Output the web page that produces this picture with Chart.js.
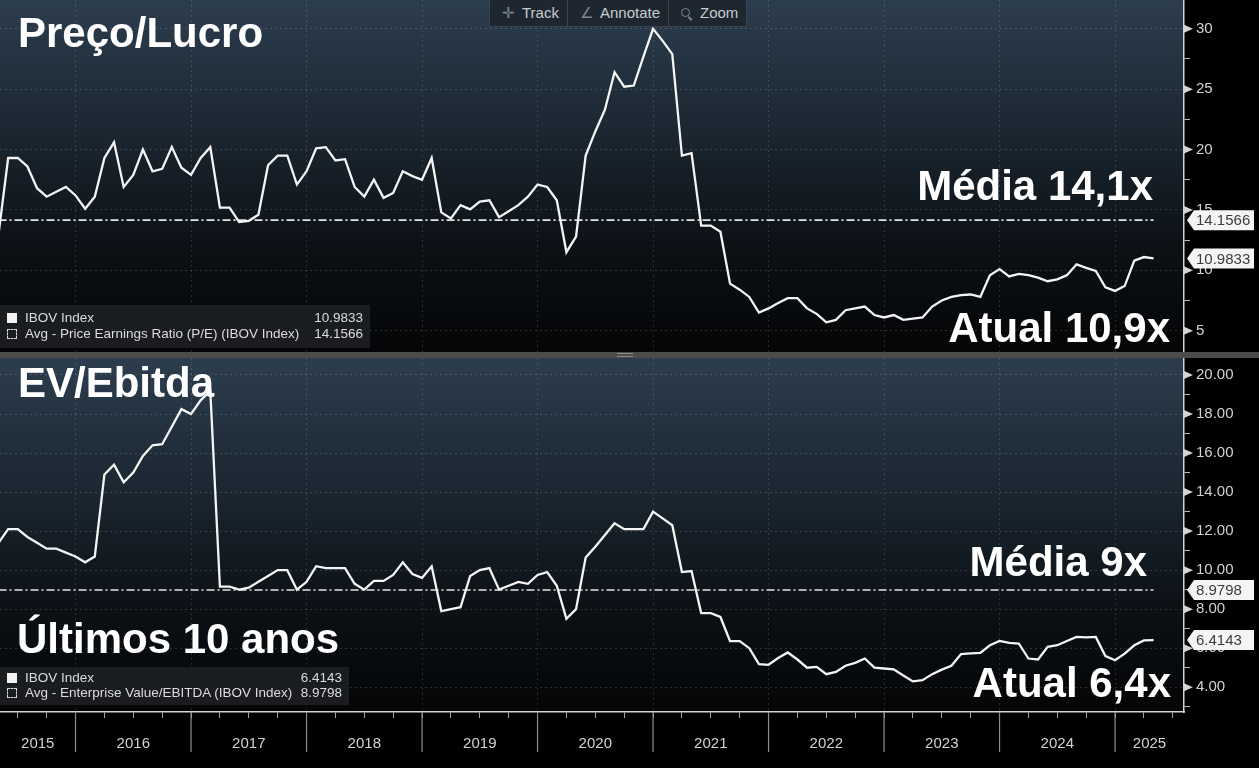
<!DOCTYPE html>
<html>
<head>
<meta charset="utf-8">
<script src="https://cdn.jsdelivr.net/npm/chart.js@4.4.1/dist/chart.umd.min.js"></script>
<style>
  html, body { margin: 0; padding: 0; background: #000; }
  #wrap { position: relative; width: 1259px; height: 768px; overflow: hidden; background: #000;
          font-family: 'Liberation Sans', Arial, sans-serif; }
  canvas { position: absolute; left: 0; }
  #c-pe { top: 0; }
  #c-ev { top: 358px; }
  #sep { position: absolute; left: 0; top: 352px; width: 1259px; height: 6px; background: #4c4c4c; }
  #sep i { position: absolute; left: 617px; top: 1px; width: 16px; height: 2px;
           border-top: 1px solid #8a8a8a; border-bottom: 1px solid #8a8a8a; }
  .big { position: absolute; color: #fff; font: bold 42px/42px 'Liberation Sans', Arial, sans-serif; white-space: nowrap; }
  .legend { position: absolute; left: 0; background: rgba(30,32,35,0.88); color: #dcdcdc;
            font: 13.5px/16px 'Liberation Sans', Arial, sans-serif; box-sizing: border-box; padding: 5px 7px 0 7px; }
  .legend .row { display: flex; align-items: center; white-space: nowrap; }
  .legend .ico { width: 10px; height: 10px; margin-right: 8px; box-sizing: border-box; }
  .legend .solid { background: #f2f2f2; }
  .legend .dash { border: 1.5px dashed #d8d8d8; }
  .legend .name { flex: 1; }
  #toolbar { position: absolute; left: 489px; top: -1px; height: 26px; display: flex; background: #1e2730;
             border: 1px solid #3b444d; color: #c6cbd0; font: 15px/25px 'Liberation Sans', Arial, sans-serif; }
  #toolbar div { padding: 0 8px 0 12px; border-left: 1px solid #3b444d; white-space: nowrap; }
  #toolbar div:first-child { border-left: none; }
  #toolbar b { font-weight: normal; color: #7d868f; margin-right: 7px; }
  .mag { display: inline-block; width: 7px; height: 7px; border: 1.5px solid #7d868f; border-radius: 50%;
         position: relative; margin-right: 10px; top: -1px; }
  .mag::after { content: ''; position: absolute; left: 7px; top: 7px; width: 5px; height: 1.5px;
                background: #7d868f; transform: rotate(45deg); transform-origin: 0 0; }
</style>
</head>
<body>
<div id="wrap">
  <canvas id="c-pe" width="1259" height="352"></canvas>
  <div id="sep"><i></i></div>
  <canvas id="c-ev" width="1259" height="410"></canvas>

  <div class="big" style="left:18px;top:12px">Preço/Lucro</div>
  <div class="big" style="right:106px;top:165px">Média 14,1x</div>
  <div class="big" style="right:89px;top:307px">Atual 10,9x</div>
  <div class="big" style="left:18px;top:362px">EV/Ebitda</div>
  <div class="big" style="right:112px;top:541px">Média 9x</div>
  <div class="big" style="left:17px;top:618px">Últimos 10 anos</div>
  <div class="big" style="right:88px;top:662px">Atual 6,4x</div>

  <div class="legend" style="top:305px;width:370px;height:43px">
    <div class="row"><span class="ico solid"></span><span class="name">IBOV Index</span><span id="lg-pe-last"></span></div>
    <div class="row"><span class="ico dash"></span><span class="name">Avg - Price Earnings Ratio (P/E) (IBOV Index)</span><span id="lg-pe-avg"></span></div>
  </div>
  <div class="legend" style="top:667px;width:349px;height:38px;padding-top:3px;line-height:15px">
    <div class="row"><span class="ico solid"></span><span class="name">IBOV Index</span><span id="lg-ev-last"></span></div>
    <div class="row"><span class="ico dash"></span><span class="name">Avg - Enterprise Value/EBITDA (IBOV Index)</span><span id="lg-ev-avg"></span></div>
  </div>

  <div id="toolbar">
    <div><b>✛</b>Track</div>
    <div><b>∠</b>Annotate</div>
    <div><span class="mag"></span>Zoom</div>
  </div>
</div>

<script>
// monthly month-end observations, Apr 2015 .. Apr 2025
const firstMonth = { year: 2015, month: 4 };

const peSeries = [
  13.0, 19.3, 19.3, 18.6, 16.8, 16.1, 16.5, 16.9, 16.2, 15.1, 16.1, 19.3, 20.6,
  16.9, 17.9, 20.0, 18.2, 18.4, 20.2, 18.5, 17.9, 19.3, 20.2, 15.2, 15.2,
  14.0, 14.1, 14.6, 18.7, 19.5, 19.5, 17.1, 18.2, 20.1, 20.2, 19.1, 19.2,
  16.9, 16.1, 17.5, 16.0, 16.4, 18.2, 17.8, 17.5, 19.3, 14.8, 14.3, 15.4,
  15.05, 15.7, 15.8, 14.4, 14.9, 15.4, 16.1, 17.1, 16.9, 15.8, 11.5, 12.8,
  19.5, 21.5, 23.3, 26.4, 25.2, 25.3, 27.7, 30.0, 29.0, 27.9, 19.5, 19.7,
  13.7, 13.7, 13.2, 8.9, 8.4, 7.8, 6.5, 6.85, 7.3, 7.7, 7.7, 6.85,
  6.4, 5.7, 5.9, 6.7, 6.85, 7.0, 6.3, 6.1, 6.3, 5.9, 6.0, 6.1,
  7.0, 7.5, 7.8, 7.95, 8.0, 7.8, 9.6, 10.1, 9.5, 9.7, 9.6, 9.4,
  9.1, 9.25, 9.6, 10.5, 10.2, 9.95, 8.6, 8.3, 8.7, 10.8, 11.1, 10.9833
];
const evSeries = [
  11.4, 12.1, 12.1, 11.7, 11.4, 11.1, 11.1, 10.9, 10.7, 10.4, 10.7, 14.9, 15.4,
  14.5, 15.0, 15.85, 16.4, 16.45, 17.35, 18.25, 18.0, 18.7, 19.2, 9.15, 9.15,
  9.0, 9.1, 9.4, 9.7, 10.0, 10.0, 9.0, 9.4, 10.2, 10.1, 10.1, 10.1,
  9.3, 9.0, 9.45, 9.45, 9.75, 10.4, 9.8, 9.6, 10.2, 7.9, 8.0, 8.1,
  9.7, 10.0, 10.1, 9.0, 9.2, 9.4, 9.3, 9.75, 9.9, 9.2, 7.5, 8.0,
  10.65, 11.2, 11.8, 12.4, 12.1, 12.1, 12.1, 13.0, 12.65, 12.3, 9.9, 9.95,
  7.8, 7.8, 7.6, 6.36, 6.36, 6.0, 5.18, 5.15, 5.5, 5.78, 5.42, 5.0,
  5.04, 4.67, 4.78, 5.1, 5.25, 5.47, 5.0, 4.96, 4.92, 4.6, 4.3, 4.36,
  4.67, 4.9, 5.1, 5.7, 5.73, 5.76, 6.15, 6.37, 6.27, 6.24, 5.47, 5.42,
  6.07, 6.15, 6.37, 6.58, 6.55, 6.58, 5.6, 5.38, 5.72, 6.15, 6.4, 6.4143
];
const peLast = 10.9833, peAvg = 14.1566;
const evLast = 6.4143, evAvg = 8.9798;

const yearLabels = ['2015', '2016', '2017', '2018', '2019', '2020', '2021', '2022', '2023', '2024', '2025'];
const peTicks = [5, 10, 15, 20, 25, 30];
const evTicks = [4, 6, 8, 10, 12, 14, 16, 18, 20];

// visible window of the time axis (decimal years)
const X_MIN = 2015.346, X_MAX = 2025.597;

Chart.defaults.font.family = "'Liberation Sans', Arial, sans-serif";

function el(id) { return document.getElementById(id); }

const monthX = peSeries.map((_, i) => firstMonth.year + (firstMonth.month + i) / 12);
function points(arr) { return arr.map((v, i) => ({ x: monthX[i], y: v })); }
function flat(v) { return [{ x: monthX[0], y: v }, { x: monthX[monthX.length - 1], y: v }]; }

const near = (a, b) => Math.abs(a - b) < 1e-6;
const isYearStart = v => near(v, Math.round(v));
const isQuarter = v => near(v * 4, Math.round(v * 4));

function yearMid(lbl) {
  const y = +lbl;
  return (Math.max(y, X_MIN) + Math.min(y + 1, X_MAX)) / 2;
}

function buildXTicks(scale) {
  const t = [];
  for (let y = 2015; y <= 2026; y++) {
    for (let q = 0; q < 4; q++) {
      const v = y + q / 4;
      if (v >= X_MIN && v <= X_MAX) t.push({ value: v });
    }
  }
  yearLabels.forEach(l => {
    const m = yearMid(l);
    if (!t.some(k => near(k.value, m))) t.push({ value: m });
  });
  t.sort((a, b) => a.value - b.value);
  scale.ticks = t;
}
function xLabel(v) {
  const l = yearLabels.find(l => near(yearMid(l), v));
  return l || '';
}

function buildYTicks(majors) {
  return scale => {
    const half = (majors[1] - majors[0]) / 2;
    const minors = majors.map(v => v - half).filter(v => v >= scale.min);
    scale.ticks = majors.concat(minors).sort((a, b) => a - b).map(v => ({ value: v, major: majors.includes(v) }));
  };
}

// no label overhang padding: the plot should fill the panel edge to edge
function noPad(s) { s.paddingTop = 0; s.paddingBottom = 0; s.paddingLeft = 0; s.paddingRight = 0; }

// gradient panel behind the plot area
const panelBg = {
  id: 'panelBg',
  beforeDraw(chart) {
    const { ctx, chartArea: a } = chart;
    ctx.save();
    ctx.fillStyle = '#000';
    ctx.fillRect(0, 0, chart.width, chart.height);
    const g = ctx.createLinearGradient(0, a.top, 0, a.bottom);
    g.addColorStop(0, '#2c3d4e');
    g.addColorStop(0.35, '#1c2833');
    g.addColorStop(0.7, '#0c1116');
    g.addColorStop(1, '#040506');
    ctx.fillStyle = g;
    ctx.fillRect(a.left, a.top, a.right - a.left, a.bottom - a.top);
    ctx.restore();
  }
};

// major tick arrows + value tags on the right axis, year separators under the time axis
const axisDecor = {
  id: 'axisDecor',
  afterDraw(chart, args, opts) {
    const { ctx } = chart;
    const ys = chart.scales.y;
    ctx.save();
    ctx.fillStyle = '#d4d4d4';
    ys.ticks.forEach(t => {
      if (!t.major) return;
      const p = ys.getPixelForValue(t.value);
      ctx.beginPath();
      ctx.moveTo(ys.left, p - 4);
      ctx.lineTo(ys.left + 9, p);
      ctx.lineTo(ys.left, p + 4);
      ctx.closePath();
      ctx.fill();
    });
    (opts.tags || []).forEach(tag => {
      const p = ys.getPixelForValue(tag.value);
      const x0 = ys.left + 3;
      ctx.fillStyle = '#f4f4f4';
      ctx.beginPath();
      ctx.moveTo(x0, p);
      ctx.lineTo(x0 + 7, p - 10);
      ctx.lineTo(x0 + 67, p - 10);
      ctx.lineTo(x0 + 67, p + 10);
      ctx.lineTo(x0 + 7, p + 10);
      ctx.closePath();
      ctx.fill();
      ctx.fillStyle = '#3c3c3c';
      ctx.font = "15px 'Liberation Sans', Arial, sans-serif";
      ctx.textBaseline = 'middle';
      ctx.fillText(tag.text, x0 + 9, p + 1);
    });
    if (opts.separators) {
      const xs = chart.scales.x;
      ctx.strokeStyle = '#8e8e8e';
      ctx.lineWidth = 1.2;
      yearLabels.forEach(l => {
        const v = +l;
        if (v <= X_MIN) return;
        const px = xs.getPixelForValue(v);
        ctx.beginPath();
        ctx.moveTo(px, xs.top);
        ctx.lineTo(px, xs.top + 40);
        ctx.stroke();
      });
    }
    ctx.restore();
  }
};

function makeChart(canvasId, cfg) {
  const series = cfg.series;
  return new Chart(el(canvasId).getContext('2d'), {
    type: 'line',
    data: { datasets: [
      { label: 'IBOV Index', data: points(series), borderColor: '#f4f4f4', borderWidth: 2.3,
        pointRadius: 0, tension: 0 },
      { label: 'Avg', data: flat(cfg.avg), borderColor: '#e4e4e4', borderWidth: 1.6,
        borderDash: [8, 3, 2, 3], pointRadius: 0, tension: 0 },
    ] },
    options: {
      responsive: false, animation: false, events: [],
      layout: { padding: 0 },
      plugins: {
        legend: { display: false }, tooltip: { enabled: false },
        axisDecor: { tags: [{ value: cfg.avg, text: cfg.avg.toFixed(4) }, { value: cfg.last, text: cfg.last.toFixed(4) }],
                     separators: cfg.showX },
      },
      scales: {
        x: {
          type: 'linear', min: X_MIN, max: X_MAX, bounds: 'data',
          afterBuildTicks: buildXTicks,
          afterFit: s => { s.height = cfg.showX ? 56 : 0; noPad(s); },
          border: { display: cfg.showX, color: '#d4d4d4', width: 1.5, dash: [2, 3] },
          grid: {
            color: c => (c.tick && isYearStart(c.tick.value)) ? 'rgba(255,255,255,0.13)' : 'rgba(0,0,0,0)',
            tickColor: c => (c.tick && isQuarter(c.tick.value)) ? '#a6a6a6' : 'rgba(0,0,0,0)',
            drawTicks: cfg.showX, tickLength: 6, lineWidth: 1,
          },
          ticks: { display: cfg.showX, autoSkip: false, maxRotation: 0, padding: 17,
                   color: '#d2d2d2', font: { size: 15 }, callback: v => xLabel(v) },
        },
        y: {
          position: 'right', min: cfg.min, max: cfg.max, bounds: 'data',
          afterBuildTicks: buildYTicks(cfg.ticks),
          afterFit: s => { s.width = 75; noPad(s); },
          border: { display: true, color: '#d4d4d4', width: 1.5, dash: [2, 3] },
          grid: {
            color: c => (c.tick && c.tick.major) ? 'rgba(255,255,255,0.15)' : 'rgba(0,0,0,0)',
            tickColor: c => (c.tick && !c.tick.major) ? '#bdbdbd' : 'rgba(0,0,0,0)',
            tickLength: 6, lineWidth: 1,
          },
          ticks: { autoSkip: false, padding: 6, color: '#d2d2d2', font: { size: 15 },
                   callback: (v) => cfg.ticks.includes(v) ? cfg.fmt(v) : '' },
        },
      },
    },
    plugins: [panelBg, axisDecor],
  });
}

makeChart('c-pe', { series: peSeries, avg: peAvg, last: peLast, min: 3.24, max: 32.38,
                    ticks: peTicks, fmt: v => String(v), showX: false });
makeChart('c-ev', { series: evSeries, avg: evAvg, last: evLast, min: 2.73, max: 20.87,
                    ticks: evTicks, fmt: v => v.toFixed(2), showX: true });

el('lg-pe-last').textContent = peLast.toFixed(4);
el('lg-pe-avg').textContent = peAvg.toFixed(4);
el('lg-ev-last').textContent = evLast.toFixed(4);
el('lg-ev-avg').textContent = evAvg.toFixed(4);
</script>
</body>
</html>
